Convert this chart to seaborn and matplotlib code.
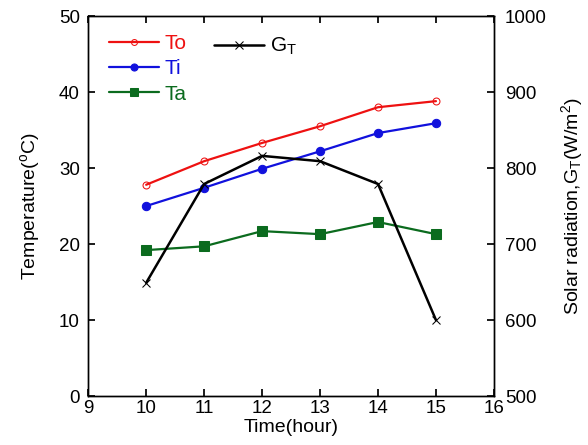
import matplotlib
matplotlib.use("Agg")
import matplotlib.pyplot as plt
import seaborn as sns
import pandas as pd

hours = [10, 11, 12, 13, 14, 15]
To = [27.8, 30.9, 33.3, 35.5, 38.0, 38.8]
Ti = [25.0, 27.4, 29.9, 32.2, 34.6, 35.9]
Ta = [19.2, 19.7, 21.7, 21.3, 22.9, 21.3]
GT = [649, 779, 816, 809, 779, 600]

sns.set_theme(style="ticks")
plt.rcParams['font.family'] = ['Liberation Sans', 'DejaVu Sans']
plt.rcParams['mathtext.fontset'] = 'custom'
plt.rcParams['mathtext.rm'] = 'Liberation Sans'
plt.rcParams['mathtext.it'] = 'Liberation Sans'
for k in ('text.color', 'axes.labelcolor', 'xtick.color', 'ytick.color', 'axes.edgecolor'):
    plt.rcParams[k] = 'black'

fig = plt.figure(figsize=(5.88, 4.45), dpi=100)
ax = fig.add_axes([0.15, 0.11, 0.69, 0.854])
ax2 = ax.twinx()

df = pd.DataFrame({"hour": hours, "To": To, "Ti": Ti, "Ta": Ta, "GT": GT})

sns.lineplot(data=df, x="hour", y="To", ax=ax, color="#ee1111", marker="o",
             markerfacecolor="none", markeredgecolor="#ee1111", markersize=5,
             linewidth=1.6, label="To")
sns.lineplot(data=df, x="hour", y="Ti", ax=ax, color="#1111dd", marker="o",
             markersize=6, markeredgecolor="#1111dd", linewidth=1.6, label="Ti")
sns.lineplot(data=df, x="hour", y="Ta", ax=ax, color="#0b6b1e", marker="s",
             markersize=7, markeredgecolor="#0b6b1e", linewidth=1.6, label="Ta")
sns.lineplot(data=df, x="hour", y="GT", ax=ax2, color="black", marker="x",
             markersize=6, markeredgecolor="black", linewidth=1.8,
             label=r"G$_\mathregular{T}$")

ax.set_xlim(9, 16)
ax.set_ylim(0, 50)
ax2.set_ylim(500, 1000)
ax.set_xticks(range(9, 17))
ax.set_yticks(range(0, 51, 10))
ax2.set_yticks(range(500, 1001, 100))

fs = 14
ax.set_xlabel("Time(hour)", fontsize=fs, labelpad=1)
ax.set_ylabel(r"Temperature($^\mathregular{o}$C)", fontsize=fs, labelpad=12)
ax2.set_ylabel(r"Solar radiation,G$_\mathregular{T}$(W/m$^\mathregular{2}$)", fontsize=fs, labelpad=9)

ax.tick_params(axis='x', direction='in', top=True, labelsize=13.5, length=5, pad=3)
ax.tick_params(axis='y', direction='in', left=True, right=False, labelsize=13.5, length=5, pad=6)
ax2.tick_params(axis='y', direction='in', right=True, labelsize=13.5, length=5, pad=8)
for a in (ax, ax2):
    for s in a.spines.values():
        s.set_linewidth(1.0)
        s.set_color("black")

leg1 = ax.legend(loc="upper left", bbox_to_anchor=(0.02, 0.985), frameon=False,
                 fontsize=15, labelcolor="linecolor", handlelength=2.4,
                 handletextpad=0.25, borderaxespad=0.2, labelspacing=0.3,
                 markerscale=0.85)
leg2 = ax2.legend(loc="upper left", bbox_to_anchor=(0.28, 0.98), frameon=False,
                  fontsize=15, labelcolor="linecolor", handlelength=2.4,
                  handletextpad=0.25, borderaxespad=0.2, markerscale=0.85)

fig.savefig("out.png", dpi=100)
